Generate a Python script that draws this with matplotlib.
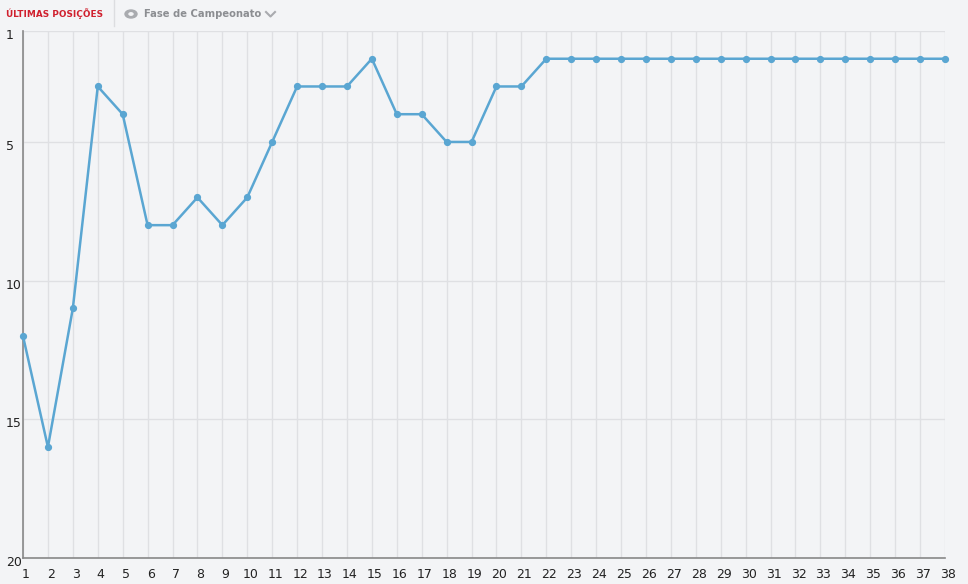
import matplotlib.pyplot as plt
import matplotlib.transforms as mtransforms
from matplotlib.patches import Ellipse, Circle
from matplotlib.lines import Line2D

# rodadas e posicoes
rounds = list(range(1, 39))
positions = [12, 16, 11, 3, 4, 8, 8, 7, 8, 7, 5, 3, 3, 3, 2, 4, 4, 5, 5, 3, 3,
             2, 2, 2, 2, 2, 2, 2, 2, 2, 2, 2, 2, 2, 2, 2, 2, 2]
y_ticks = [1, 5, 10, 15, 20]

bg = '#f3f4f6'
line_color = '#5aa6d2'
W, H = 968, 584

fig = plt.figure(figsize=(W / 100, H / 100), dpi=100, facecolor=bg)
ax = fig.add_axes([23 / W, (H - 558) / H, (945 - 23) / W, (558 - 31) / H])
ax.set_facecolor(bg)

ax.plot(rounds, positions, color=line_color, lw=1.8, marker='o', ms=4.2,
        clip_on=False, zorder=3)

ax.set_xlim(1, 38)
ax.set_ylim(20, 1)
ax.set_xticks(rounds)
ax.set_yticks(y_ticks)
ax.grid(True, color='#dfe0e3', lw=1)
ax.tick_params(length=0, labelsize=9, colors='#222222')
ax.tick_params(axis='x', pad=7)
ax.tick_params(axis='y', pad=12.2)

shift_x = mtransforms.ScaledTranslation(3 / 100, 0, fig.dpi_scale_trans)
shift_y = mtransforms.ScaledTranslation(0, -3 / 100, fig.dpi_scale_trans)
for lbl in ax.get_xticklabels():
    lbl.set_transform(lbl.get_transform() + shift_x)
for lbl in ax.get_yticklabels():
    lbl.set_horizontalalignment('left')
    lbl.set_transform(lbl.get_transform() + shift_y)

for s in ['top', 'right']:
    ax.spines[s].set_visible(False)
for s in ['left', 'bottom']:
    ax.spines[s].set_color('#888888')
    ax.spines[s].set_linewidth(1.2)

# cabecalho
fig.text(6 / W, 1 - 14 / H, 'ÚLTIMAS POSIÇÕES', color='#d0202e', fontsize=6.4,
         fontweight='bold', va='center', ha='left')
fig.add_artist(Line2D([114 / W, 114 / W], [1 - 0 / H, 1 - 26 / H],
                      color='#dcdde0', lw=1))
fig.add_artist(Ellipse((131 / W, 1 - 14 / H), 12 / W, 8 / H, color='#a9abaf'))
fig.add_artist(Circle((131 / W, 1 - 14 / H), 2 / W, color=bg))
fig.text(144 / W, 1 - 14 / H, 'Fase de Campeonato', color='#8c8e92', fontsize=7.2,
         fontweight='bold', va='center', ha='left')
fig.add_artist(Line2D([266 / W, 270.5 / W, 275 / W],
                      [1 - 12 / H, 1 - 16.5 / H, 1 - 12 / H],
                      color='#a9abaf', lw=1.5))

plt.savefig('out.png', dpi=100, facecolor=bg)
